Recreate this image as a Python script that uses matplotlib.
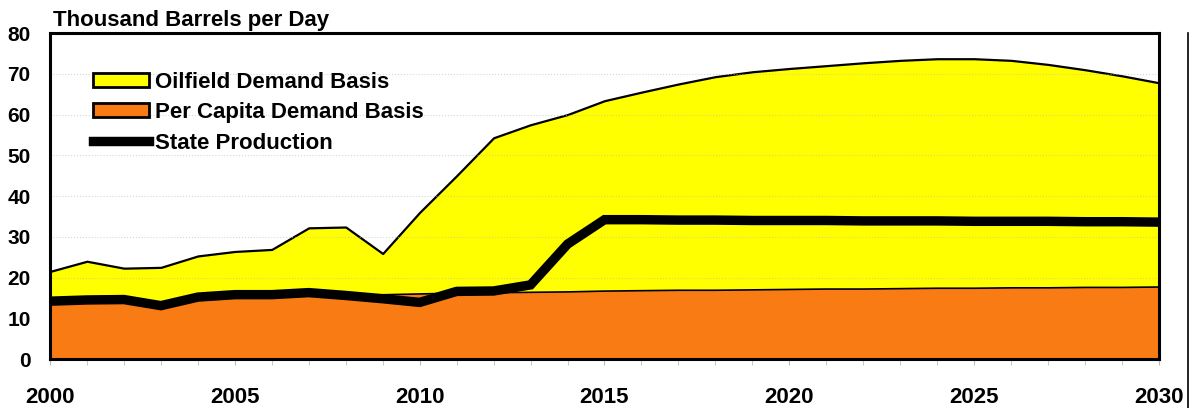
import matplotlib

matplotlib.use("Agg")
import matplotlib.pyplot as plt
from matplotlib.lines import Line2D
from matplotlib.patches import Patch

years = list(range(2000, 2031))
oilfield_demand = [21.5, 24.0, 22.3, 22.5, 25.3, 26.4, 26.9, 32.2, 32.4, 25.9,
                   36.0, 45.0, 54.3, 57.5, 60.0, 63.4, 65.5, 67.5, 69.3, 70.5,
                   71.3, 72.0, 72.7, 73.3, 73.7, 73.7, 73.3, 72.3, 71.0, 69.5, 67.8]
per_capita_demand = [13.8, 14.2, 14.3, 12.8, 15.0, 15.5, 15.5, 15.8, 15.5, 15.9,
                     16.1, 16.3, 16.4, 16.5, 16.6, 16.8, 16.9, 17.0, 17.0, 17.1,
                     17.2, 17.3, 17.3, 17.4, 17.5, 17.5, 17.6, 17.6, 17.7, 17.7, 17.8]
state_production = [14.2, 14.5, 14.6, 13.1, 15.2, 15.8, 15.8, 16.3, 15.6, 14.8,
                     13.9, 16.6, 16.7, 18.2, 28.2, 34.2, 34.2, 34.1, 34.1, 34.0,
                     34.0, 34.0, 33.9, 33.9, 33.9, 33.8, 33.8, 33.8, 33.7, 33.7, 33.6]

x_labels = ["2000", "2005", "2010", "2015", "2020", "2025", "2030"]
y_ticks = [0, 10, 20, 30, 40, 50, 60, 70, 80]

YELLOW = "#FFFF00"
ORANGE = "#F97B14"

plt.rcParams["font.family"] = ["Liberation Sans", "DejaVu Sans"]
plt.rcParams["font.weight"] = "bold"

fig = plt.figure(figsize=(11.93, 4.08), dpi=100)
ax = fig.add_axes([0.0419, 0.120, 0.9296, 0.799])

ax.fill_between(years, 0, oilfield_demand, facecolor=YELLOW, edgecolor="black", linewidth=1.6, zorder=2)
ax.fill_between(years, 0, per_capita_demand, facecolor=ORANGE, edgecolor="black", linewidth=1.2, zorder=3)
ax.plot(years, state_production, color="black", linewidth=6.8, solid_joinstyle="miter", zorder=4)

ax.set_xlim(2000, 2030)
ax.set_ylim(0, 80)
ax.set_yticks(y_ticks)
ax.set_yticklabels([str(v) for v in y_ticks], fontsize=15, fontweight="bold")
ax.set_xticks([int(s) for s in x_labels])
ax.set_xticklabels(x_labels, fontsize=16, fontweight="bold")
ax.set_xticks(years, minor=True)
ax.tick_params(axis="y", length=0, pad=14)
ax.tick_params(axis="x", which="both", length=4, color="#bbbbbb", pad=16)

ax.grid(axis="y", color="#bdbdbd", linestyle=":", linewidth=0.8, alpha=0.6, zorder=5)
ax.set_axisbelow(False)

for side in ["left", "bottom", "top", "right"]:
    ax.spines[side].set_linewidth(2.2)
    ax.spines[side].set_zorder(6)

ax.text(0.003, 1.005, "Thousand Barrels per Day", transform=ax.transAxes,
        fontsize=16, fontweight="bold", ha="left", va="bottom")

handles = [
    Patch(facecolor=YELLOW, edgecolor="black", linewidth=2.0, label="Oilfield Demand Basis"),
    Patch(facecolor=ORANGE, edgecolor="black", linewidth=2.0, label="Per Capita Demand Basis"),
    Line2D([0], [0], color="black", linewidth=6.8, label="State Production"),
]
ax.legend(handles=handles, loc="upper left", bbox_to_anchor=(0.029, 0.915), frameon=False,
          handlelength=2.5, handleheight=0.6, handletextpad=0.3,
          labelspacing=0.42, borderpad=0, prop={"weight": "bold", "size": 16})

fig.add_artist(Line2D([0.9958, 0.9958], [0.0, 0.92], transform=fig.transFigure,
                      color="black", linewidth=1.2))

fig.savefig("out.png", dpi=100)
